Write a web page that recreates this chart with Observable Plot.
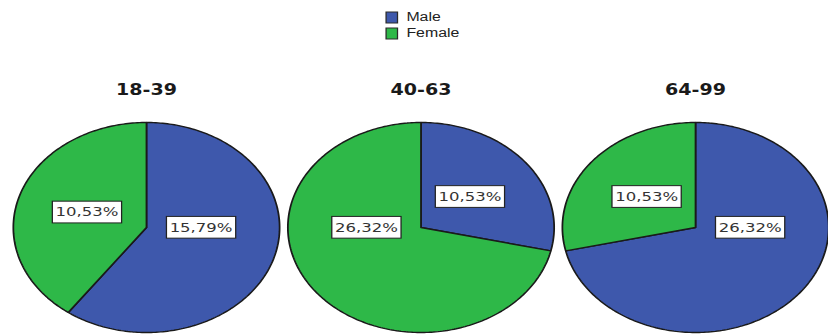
<!DOCTYPE html>
<html>
<head>
<meta charset="utf-8">
<script src="https://cdn.jsdelivr.net/npm/d3@7"></script>
<script src="https://cdn.jsdelivr.net/npm/@observablehq/plot@0.6"></script>
<style>
  html, body { margin: 0; padding: 0; background: #fff; overflow: hidden; }
  /* the whole chart is drawn narrow and widened horizontally, giving oval pies */
  #chart { width: 652px; transform: scaleX(1.27); transform-origin: 0 0; }
  #legend { height: 45px; box-sizing: border-box; padding: 9px 0 0 304px; }
  #legend > div { margin: 0; font-family: "Liberation Sans", Arial, sans-serif; font-size: 12.5px; color: #222; }
  #legend > div > div { height: 16px; padding: 0; }
  #legend > div > div > svg { margin-right: 7px; }
  #legend svg rect { stroke: #2a2a2a; stroke-width: 1; }
  #chart > svg { display: block; }
</style>
</head>
<body>
<div id="chart"><div id="legend"></div></div>
<script>
// Gender share (% of all respondents) within each age group
const ageGroups = ["18-39", "40-63", "64-99"];
const genders = ["Male", "Female"];
const malePct = [15.79, 10.53, 26.32];
const femalePct = [10.53, 26.32, 10.53];
const genderColors = ["#3E58AC", "#2EB848"];

const fmt = d3.formatLocale({decimal: ",", thousands: ".", grouping: [3], currency: ["", ""]}).format(".2f");

// one record per slice, angles clockwise from 12 o'clock
const slices = ageGroups.flatMap((group, i) => {
  const values = [malePct[i], femalePct[i]];
  const arcs = d3.pie().sort(null).value(d => d)(values);
  return arcs.map((a, j) => ({group, gender: genders[j], value: values[j], a0: a.startAngle, a1: a.endAngle}));
});

// closed outline of each slice: centre -> arc -> centre
const outline = slices.flatMap(s => {
  const n = Math.max(2, Math.ceil((s.a1 - s.a0) / (Math.PI / 180)));
  const pts = [{...s, px: 0, py: 0}];
  for (let k = 0; k <= n; ++k) {
    const t = s.a0 + (s.a1 - s.a0) * k / n;
    pts.push({...s, px: Math.sin(t), py: Math.cos(t)});
  }
  pts.push({...s, px: 0, py: 0});
  return pts;
});

// label anchor: mid-angle for minor slices; major slices (over half the pie)
// put their label level with the centre, on the side their bulk lies
function labelPos(d) {
  const mid = (d.a0 + d.a1) / 2;
  if (d.a1 - d.a0 > Math.PI) {
    const side = Math.sin(mid) >= 0 ? 1 : -1;
    return [0.41 * side, 0];
  }
  return [0.47 * Math.sin(mid), 0.47 * Math.cos(mid)];
}

document.getElementById("legend").append(
  Plot.legend({
    legend: "swatches",
    color: {domain: genders, range: genderColors},
    columns: 1,
    swatchWidth: 9,
    swatchHeight: 11
  })
);

const chart = Plot.plot({
  width: 652,
  height: 289,
  marginTop: 77,
  marginBottom: 2,
  marginLeft: 10,
  marginRight: 0,
  fx: {domain: ageGroups, paddingInner: 0.03, paddingOuter: 0, axis: null, round: false},
  x: {domain: [-1, 1], axis: null},
  y: {domain: [-1, 1], axis: null},
  color: {domain: genders, range: genderColors},
  marks: [
    Plot.line(outline, {
      fx: "group", x: "px", y: "py", z: "gender",
      fill: "gender", stroke: "#1a1a1a", strokeWidth: 1.4, strokeLinejoin: "miter"
    }),
    Plot.text(slices, {
      fx: "group",
      x: d => labelPos(d)[0],
      y: d => labelPos(d)[1],
      text: d => fmt(d.value) + "%",
      fontFamily: "DejaVu Sans", fontSize: 13, fill: "#333",
      ariaLabel: () => "slice-label"
    }),
    Plot.text(ageGroups, {
      fx: d => d, text: d => d,
      frameAnchor: "top", dy: -38,
      fontFamily: "DejaVu Sans", fontWeight: "bold", fontSize: 15, fill: "#1a1a1a"
    })
  ]
});

document.getElementById("chart").append(chart);

// white boxed background behind each percentage label
chart.querySelectorAll('text[aria-label="slice-label"]').forEach(t => {
  const b = t.getBBox();
  const r = document.createElementNS("http://www.w3.org/2000/svg", "rect");
  r.setAttribute("x", b.x - 2.5);
  r.setAttribute("y", b.y - 3);
  r.setAttribute("width", b.width + 5);
  r.setAttribute("height", b.height + 6);
  r.setAttribute("fill", "#fff");
  r.setAttribute("stroke", "#222");
  r.setAttribute("stroke-width", 1);
  const tr = t.getAttribute("transform");
  if (tr) r.setAttribute("transform", tr);
  t.parentNode.insertBefore(r, t);
});
</script>
</body>
</html>
